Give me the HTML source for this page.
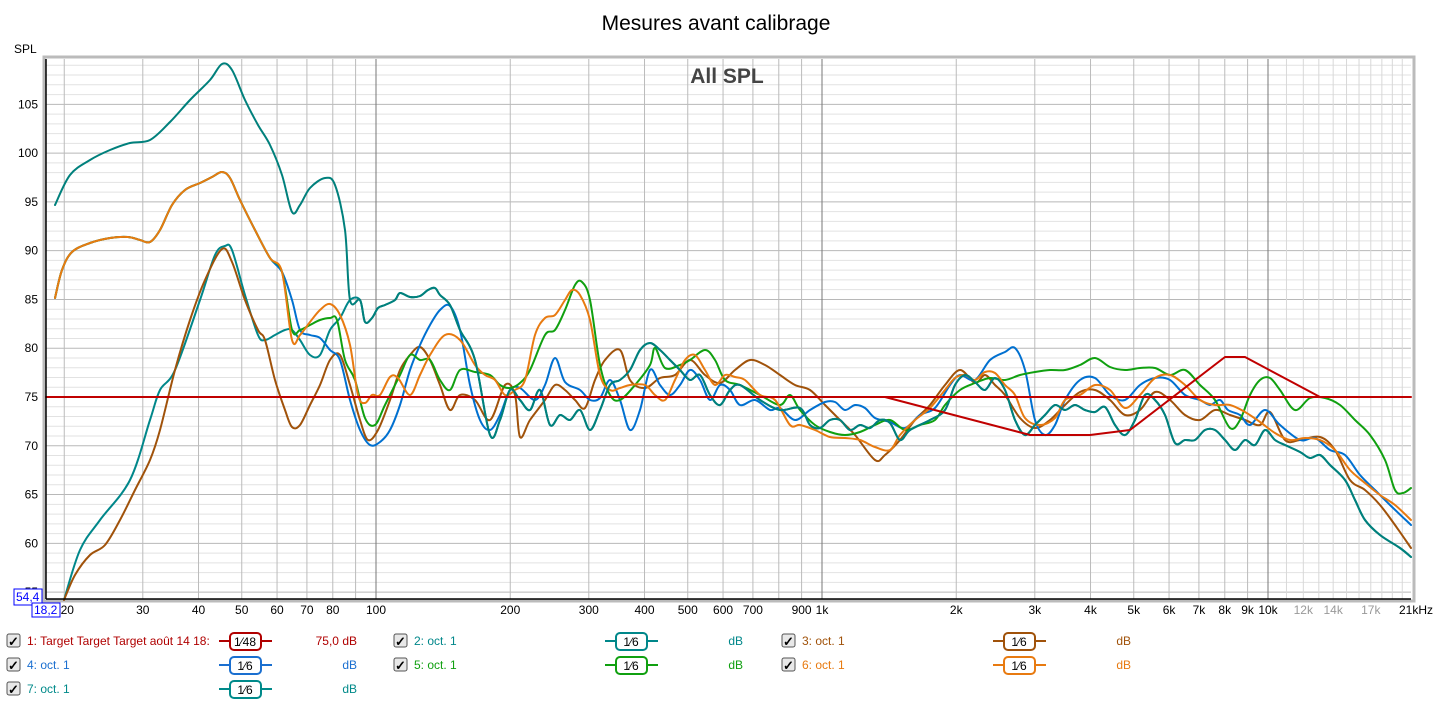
<!DOCTYPE html>
<html><head><meta charset="utf-8"><style>
body{margin:0;background:#fff;width:1433px;height:703px;overflow:hidden;font-family:"Liberation Sans",sans-serif}
svg{position:absolute;left:0;top:0}
</style></head><body>
<svg id="s" width="1433" height="703" xmlns="http://www.w3.org/2000/svg" font-family="Liberation Sans, sans-serif">
<text x="716" y="30" font-size="21" text-anchor="middle" fill="#000">Mesures avant calibrage</text>
<text x="14" y="53" font-size="12" fill="#000">SPL</text>
<rect x="44" y="57" width="1370" height="544" fill="#fff" stroke="#bbb" stroke-width="3"/>
<g id="grid"></g>
<g id="curves" fill="none" stroke-width="2" stroke-linejoin="round" stroke-linecap="round"></g>
<line x1="46" y1="59" x2="46" y2="599" stroke="#000" stroke-width="1.5"/>
<line x1="46" y1="599" x2="1411" y2="599" stroke="#000" stroke-width="1.5"/>
<text x="727" y="83" font-size="21" font-weight="bold" fill="#444" text-anchor="middle">All SPL</text>
<g id="labels" font-size="12"></g>
<rect x="14" y="589" width="28" height="16" fill="#fff" stroke="#00f"/>
<text x="16" y="601" font-size="12" fill="#00f">54,4</text>
<rect x="32" y="603" width="28" height="14" fill="#fff" stroke="#00f"/>
<text x="34" y="614" font-size="12" fill="#00f">18,2</text>
<g id="legend" font-size="12"></g>
</svg>
<script>
const NS="http://www.w3.org/2000/svg";
function el(t,a,p,txt){const e=document.createElementNS(NS,t);for(const k in a)e.setAttribute(k,a[k]);if(txt!==undefined)e.textContent=txt;p.appendChild(e);return e;}
const X=f=>376+446*Math.log10(f/100), Y=d=>397-(d-75)*9.756;
const g=document.getElementById('grid'),L=document.getElementById('labels');
for(let d=55;d<=109;d++){const y=Y(d);if(y<59)continue;el('line',{x1:46,x2:1411,y1:y,y2:y,stroke:d%5==0?'#b8b8b8':'#e2e2e2','stroke-width':1},g);
 if(d%5==0&&d<=105)el('text',{x:38,y:y+4,'text-anchor':'end'},L,d);}
let fs=[];for(let dec of [10,100,1000])for(let m=2;m<=9;m++){fs.push(dec*m);}
fs.push(100,1000,10000);for(let k=11;k<=21;k++)fs.push(k*1000);
for(const f of fs){const x=X(f);if(x<47||x>1411)continue;const maj=(f==100||f==1000||f==10000);el('line',{x1:x,x2:x,y1:59,y2:599,stroke:maj?'#777':(f>10000?'#d8d8d8':'#bbb'),'stroke-width':1},g);}
const xl=[[20,'20'],[30,'30'],[40,'40'],[50,'50'],[60,'60'],[70,'70'],[80,'80'],[100,'100'],[200,'200'],[300,'300'],[400,'400'],[500,'500'],[600,'600'],[700,'700'],[900,'900'],[1000,'1k'],[2000,'2k'],[3000,'3k'],[4000,'4k'],[5000,'5k'],[6000,'6k'],[7000,'7k'],[8000,'8k'],[9000,'9k'],[10000,'10k'],[12000,'12k'],[14000,'14k'],[17000,'17k']];
for(const [f,t] of xl)el('text',{x:X(f)+(f==20?3:0),y:614,'text-anchor':'middle',fill:f>10000?'#999':'#000'},L,t);
el('text',{x:1416,y:614,'text-anchor':'middle'},L,'21kHz');
function smooth(p){let d='M'+p[0][0]+','+p[0][1];for(let i=0;i<p.length-1;i++){const p0=p[i-1]||p[i],p1=p[i],p2=p[i+1],p3=p[i+2]||p2;
 d+=' C'+(p1[0]+(p2[0]-p0[0])/6)+','+(p1[1]+(p2[1]-p0[1])/6)+' '+(p2[0]-(p3[0]-p1[0])/6)+','+(p2[1]-(p3[1]-p1[1])/6)+' '+p2[0]+','+p2[1];}return d;}
const C=document.getElementById('curves');
function P(s){return s.trim().split(/\)\s*,?\s*\(/).map(t=>t.replace(/[()]/g,'').split(',').map(Number));}
const orLow="(55,298),(62,270),(72,252),(90,243),(110,238),(128,237),(140,240),(150,242),(160,230),(172,205),(185,190),(200,183),(212,177),(222,172),(230,178),(240,200),(255,230),(270,258),(282,272)";
const mid="(350,300),(360,300),(365,322),(372,318),(378,308),(385,305),(395,300),(400,293),(410,297),(420,296),(428,290),(435,288),(440,295),(450,305),(460,330),(475,360),(490,435),(500,420),(510,390),(520,400),(530,410),(540,390),(550,425),(560,415),(570,420),(580,410),(590,430),(600,410),(610,385),(620,380),(630,370),(640,350),(650,343),(660,350),(670,360),(680,370),(690,380),(700,375),(710,395),(720,405),(730,390),(740,385),(760,400),(780,410),(800,408),(810,425),(820,428),(830,420),(840,420),(850,430),(860,425),(870,428),(880,420),(890,423),(900,440),(910,430),(930,420),(945,410),(955,385),(965,375),(975,382),(985,390),(995,378),(1005,390),(1015,420),(1025,435),(1035,425),(1045,415),(1055,405),(1065,410),(1075,405),(1085,410),(1095,412),(1105,407),(1115,425),(1125,435),(1135,420),(1145,395),(1155,400),(1165,415),(1175,443),(1185,440),(1195,440),(1205,430),(1215,430),(1225,440),(1235,450),(1245,440),(1255,445),(1265,430),(1275,440),(1285,445),(1300,452),(1310,458),(1320,455),(1330,465),(1345,480),(1355,500),(1365,520),(1380,535),(1400,548),(1411,557)";
const series=[
['#00878a',"(64,600),(80,550),(100,520),(130,480),(150,420),(160,390),(175,370),(200,300),(215,255),(225,246),(232,250),(245,295),(258,335),(265,340),(275,335),(285,330),(292,330),(300,340),(310,355),(320,355),(330,330),(340,318),"+mid],
['#a0520a',"(64,600),(75,575),(90,555),(105,545),(120,520),(135,490),(150,460),(160,430),(175,370),(190,320),(205,280),(222,249),(232,262),(245,300),(258,330),(265,340),(275,380),(285,410),(292,427),(300,425),(310,405),(320,385),(330,360),(340,355),(350,385),(360,420),(368,440),(378,430),(390,400),(400,370),(410,355),(420,347),(430,360),(440,385),(450,410),(460,395),(475,400),(490,420),(505,385),(515,395),(520,437),(530,420),(545,400),(555,385),(565,390),(575,400),(585,408),(595,380),(605,360),(620,350),(630,380),(645,388),(660,378),(675,375),(690,360),(705,375),(720,383),(735,370),(750,360),(765,365),(780,375),(795,385),(810,390),(825,405),(840,420),(855,435),(875,460),(885,455),(900,440),(915,420),(930,405),(945,385),(960,370),(975,383),(985,375),(995,385),(1005,395),(1020,418),(1035,428),(1050,420),(1065,405),(1080,392),(1095,390),(1110,400),(1125,415),(1140,410),(1155,392),(1170,400),(1185,415),(1200,420),(1215,410),(1230,415),(1245,420),(1260,425),(1270,412),(1285,440),(1300,440),(1320,437),(1335,450),(1350,480),(1365,490),(1380,505),(1395,525),(1411,548)"],
['#0070d0',orLow+",(292,300),(300,330),(310,335),(320,338),(330,350),(340,360),(350,400),(360,430),(370,445),(380,442),(390,430),(400,405),(410,370),(420,345),(430,325),(440,310),(450,306),(460,330),(470,385),(480,420),(490,430),(500,415),(510,390),(520,388),(535,400),(545,385),(555,358),(565,382),(580,390),(590,400),(600,398),(610,380),(620,400),(630,430),(640,410),(650,370),(660,385),(670,395),(680,385),(690,370),(700,380),(710,400),(720,385),(730,390),(740,405),(755,400),(770,410),(780,408),(795,420),(810,410),(825,402),(835,402),(845,410),(855,405),(865,408),(875,418),(890,422),(905,428),(920,415),(935,408),(950,385),(960,375),(975,380),(990,360),(1005,352),(1015,348),(1025,370),(1035,420),(1045,435),(1055,425),(1065,400),(1080,380),(1095,378),(1110,395),(1125,400),(1140,385),(1155,378),(1170,380),(1185,395),(1200,400),(1210,405),(1220,400),(1228,410),(1240,415),(1250,425),(1265,410),(1280,425),(1300,440),(1315,438),(1330,450),(1345,455),(1360,475),(1375,490),(1390,505),(1411,525)"],
['#10a010',orLow+",(292,330),(300,330),(310,325),(320,320),(330,318),(337,320),(345,360),(355,380),(365,418),(375,425),(385,405),(400,375),(410,355),(420,360),(430,360),(440,380),(450,390),(460,370),(475,372),(490,375),(500,385),(510,388),(520,383),(530,370),(545,335),(555,330),(565,310),(575,285),(582,282),(590,300),(600,365),(610,395),(620,400),(635,385),(650,365),(655,348),(665,368),(680,365),(690,360),(705,350),(715,360),(725,380),(740,385),(760,395),(780,405),(790,395),(800,410),(815,425),(830,432),(845,435),(860,432),(875,425),(890,420),(905,430),(920,425),(935,420),(945,405),(960,390),(975,383),(990,378),(1005,380),(1020,375),(1035,372),(1050,370),(1065,370),(1080,365),(1095,358),(1110,367),(1125,370),(1140,368),(1155,368),(1170,375),(1185,370),(1200,385),(1215,400),(1230,428),(1240,420),(1250,395),(1260,380),(1270,378),(1280,390),(1295,410),(1310,398),(1325,398),(1340,405),(1355,420),(1370,435),(1385,460),(1395,490),(1403,493),(1411,488)"],
['#e87a10',orLow+",(292,340),(300,335),(310,322),(320,310),(330,304),(340,315),(350,345),(358,395),(365,403),(372,395),(380,395),(390,377),(398,378),(410,395),(420,375),(430,355),(445,335),(460,340),(475,365),(485,375),(495,380),(505,395),(515,390),(525,380),(535,335),(545,318),(555,315),(565,300),(572,290),(580,295),(590,320),(600,375),(610,390),(620,388),(630,385),(645,385),(655,395),(665,400),(675,380),(685,360),(695,355),(705,370),(715,385),(725,375),(735,377),(745,380),(760,395),(775,400),(790,425),(800,425),(815,430),(830,437),(845,438),(860,440),(875,447),(890,450),(900,435),(915,420),(930,408),(945,390),(955,378),(965,375),(975,380),(985,372),(995,373),(1005,385),(1015,395),(1025,418),(1040,425),(1055,418),(1065,400),(1080,395),(1095,385),(1110,390),(1125,408),(1140,395),(1155,378),(1170,375),(1185,385),(1200,400),(1215,405),(1230,405),(1245,412),(1260,422),(1275,433),(1290,440),(1305,438),(1320,440),(1335,450),(1350,470),(1365,483),(1380,495),(1395,505),(1411,520)"],
['#00807c',"(55,205),(70,175),(90,160),(110,150),(130,143),(150,140),(170,122),(190,100),(210,80),(222,64),(232,70),(245,100),(258,125),(270,145),(282,175),(292,212),(300,205),(310,188),(325,178),(335,185),(345,230),"+mid]
];
for(const [c,s] of series)el('path',{d:smooth(P(s)),stroke:c},C);
el('line',{x1:46,x2:1411,y1:397,y2:397,stroke:'#c00000','stroke-width':2},C);
el('polyline',{points:"885,397 1030,435 1090,435 1130,430 1225,357 1245,357 1320,397",stroke:'#c00000','stroke-width':2},C);
const Lg=document.getElementById('legend');
function item(cx,y,txt,col,frac,lx,valx,val){
 el('rect',{x:cx,y:y-11,width:13,height:13,fill:'#e8e8e8',stroke:'#555',rx:2},Lg);
 el('text',{x:cx+1,y:y+1,'font-size':13,'font-weight':'bold'},Lg,'✓');
 el('text',{x:cx+20,y:y,fill:col},Lg,txt);
 el('line',{x1:lx,x2:lx+53,y1:y-4,y2:y-4,stroke:col,'stroke-width':2},Lg);
 el('rect',{x:lx+11,y:y-12,width:31,height:17,rx:4,fill:'#fff',stroke:col,'stroke-width':2},Lg);
 el('text',{x:lx+26,y:y+1,'text-anchor':'middle','font-size':12},Lg,'1⁄'+frac);
 el('text',{x:valx,y:y,'text-anchor':'end',fill:col},Lg,val);}
item(7,645,'1: Target Target Target août 14 18:','#b00000','48',219,357,'75,0 dB');
item(7,669,'4: oct. 1','#1a6fd0','6',219,357,'dB');
item(7,693,'7: oct. 1','#008a8a','6',219,357,'dB');
item(394,645,'2: oct. 1','#00878a','6',605,743,'dB');
item(394,669,'5: oct. 1','#10a010','6',605,743,'dB');
item(782,645,'3: oct. 1','#a0520a','6',993,1131,'dB');
item(782,669,'6: oct. 1','#e87a10','6',993,1131,'dB');
</script>
</body></html>
